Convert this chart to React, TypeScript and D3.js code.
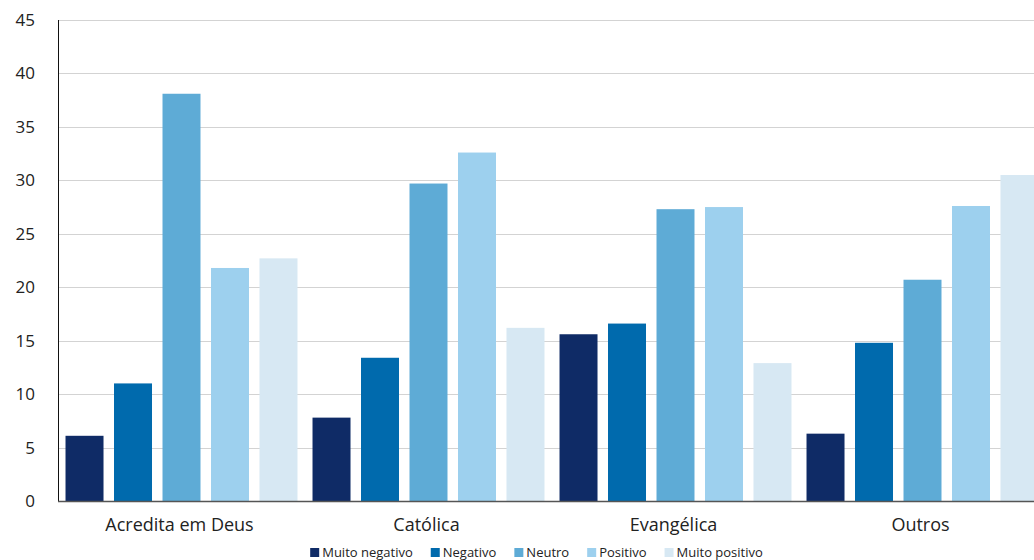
import React, { useEffect, useRef } from "react";
import * as d3 from "d3";

const categories = ["Acredita em Deus", "Católica", "Evangélica", "Outros"];
const seriesNames = ["Muito negativo", "Negativo", "Neutro", "Positivo", "Muito positivo"];
const colors = ["#0f2b66", "#006aad", "#5eabd6", "#9dd0ee", "#d7e8f3"];
const muitoNegativo = [6.1, 7.8, 15.6, 6.3];
const negativo = [11.0, 13.4, 16.6, 14.8];
const neutro = [38.1, 29.7, 27.3, 20.7];
const positivo = [21.8, 32.6, 27.5, 27.6];
const muitoPositivo = [22.7, 16.2, 12.9, 30.5];
const yTicks = [0, 5, 10, 15, 20, 25, 30, 35, 40, 45];

const seriesValues = [muitoNegativo, negativo, neutro, positivo, muitoPositivo];

const W = 1034;
const H = 560;
const FONT = "'Open Sans', 'Noto Sans', sans-serif";

export default function App() {
  const ref = useRef<SVGSVGElement | null>(null);

  useEffect(() => {
    const svg = d3.select(ref.current);
    svg.selectAll("*").remove();

    const left = 58;
    const right = 1046;
    const top = 20;
    const bottom = 501;

    const x0 = d3.scaleBand<string>().domain(categories).range([left, right]).paddingInner(0).paddingOuter(0);
    const x1 = d3
      .scaleBand<string>()
      .domain(seriesNames)
      .range([0, x0.bandwidth()])
      .paddingInner(0.2165)
      .paddingOuter(0.155);
    const y = d3.scaleLinear().domain([0, 45]).range([bottom, top]);

    // gridlines
    svg
      .append("g")
      .selectAll("line")
      .data(yTicks.filter((t) => t > 0))
      .join("line")
      .attr("x1", left)
      .attr("x2", W)
      .attr("y1", (d) => Math.round(y(d)) + 0.5)
      .attr("y2", (d) => Math.round(y(d)) + 0.5)
      .attr("stroke", "#d3d3d3")
      .attr("stroke-width", 1);

    // bars
    const g = svg.append("g");
    categories.forEach((c, ci) => {
      seriesNames.forEach((s, si) => {
        const v = seriesValues[si][ci];
        g.append("rect")
          .attr("x", (x0(c) as number) + (x1(s) as number))
          .attr("y", y(v))
          .attr("width", x1.bandwidth())
          .attr("height", bottom - y(v))
          .attr("fill", colors[si]);
      });
    });

    // y axis line
    svg
      .append("line")
      .attr("x1", left + 0.5)
      .attr("x2", left + 0.5)
      .attr("y1", top)
      .attr("y2", bottom)
      .attr("stroke", "#111")
      .attr("stroke-width", 1);
    // x axis line
    svg
      .append("line")
      .attr("x1", left)
      .attr("x2", W)
      .attr("y1", bottom + 0.5)
      .attr("y2", bottom + 0.5)
      .attr("stroke", "#555")
      .attr("stroke-width", 1.5);

    // y tick labels
    svg
      .append("g")
      .selectAll("text")
      .data(yTicks)
      .join("text")
      .attr("x", 35)
      .attr("y", (d) => y(d))
      .attr("dy", "0.35em")
      .attr("text-anchor", "end")
      .attr("font-family", FONT)
      .attr("font-size", 17)
      .attr("fill", "#222")
      .text((d) => String(d));

    // x labels
    svg
      .append("g")
      .selectAll("text")
      .data(categories)
      .join("text")
      .attr("x", (d) => (x0(d) as number) + x0.bandwidth() / 2 - 2)
      .attr("y", 531)
      .attr("text-anchor", "middle")
      .attr("font-family", FONT)
      .attr("font-size", 18)
      .attr("fill", "#222")
      .text((d) => d);

    // legend
    const lg = svg.append("g");
    const items = seriesNames.map((name, i) => {
      const it = lg.append("g");
      it.append("rect").attr("x", 0).attr("y", -8).attr("width", 9).attr("height", 9).attr("fill", colors[i]);
      const t = it
        .append("text")
        .attr("x", 12)
        .attr("y", 1)
        .attr("font-family", FONT)
        .attr("font-size", 13)
        .attr("fill", "#222")
        .text(name);
      const w = (t.node() as SVGTextElement).getComputedTextLength();
      return { it, w: 12 + w };
    });
    const gap = 18;
    const total = items.reduce((a, b) => a + b.w, 0) + gap * (items.length - 1);
    let cx = 536.5 - total / 2;
    items.forEach(({ it, w }) => {
      it.attr("transform", `translate(${cx},556)`);
      cx += w + gap;
    });
  }, []);

  return (
    <svg
      ref={ref}
      width={W}
      height={H}
      style={{ position: "absolute", left: 0, top: 0, display: "block", background: "#fff" }}
    />
  );
}
